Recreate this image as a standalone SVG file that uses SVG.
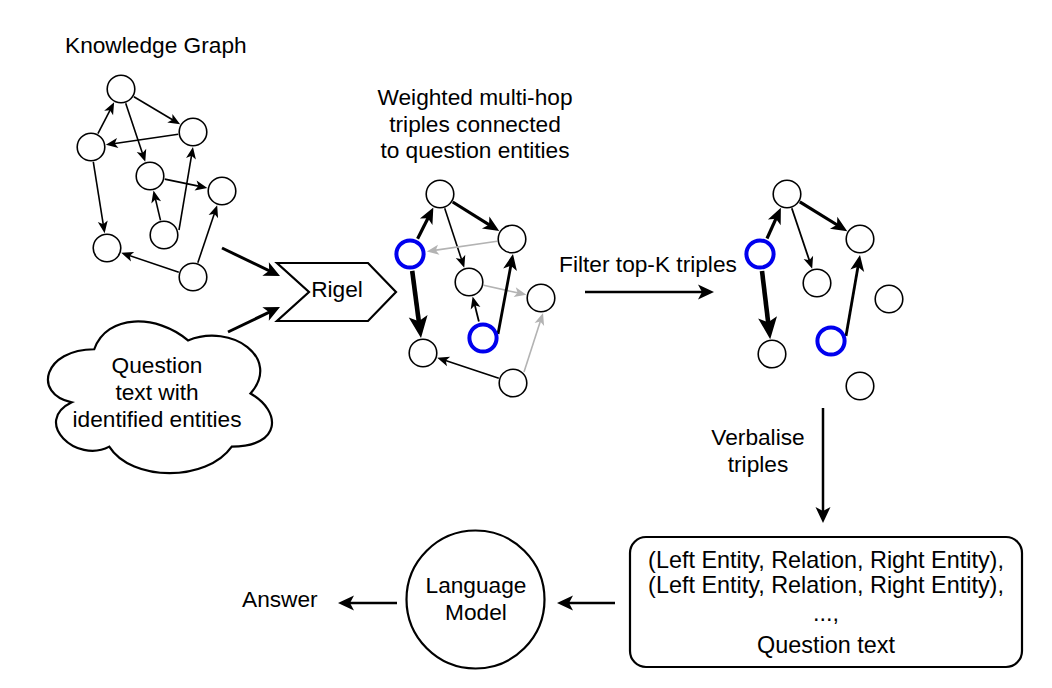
<svg xmlns="http://www.w3.org/2000/svg" width="1052" height="688" viewBox="0 0 1052 688">
<style>
text{font-family:"Liberation Sans",Arial,Helvetica,sans-serif;font-size:22.7px;fill:#000}
.c{text-anchor:middle}
.n{fill:#fff;stroke:#000;stroke-width:1.6}
.q{fill:#fff;stroke:#0000ee;stroke-width:4}
.e1{stroke:#000;stroke-width:1.6;fill:none;marker-end:url(#a1)}
.eg{stroke:#b3b3b3;stroke-width:1.6;fill:none;marker-end:url(#ag)}
.e2{stroke:#000;stroke-width:3.2;fill:none;marker-end:url(#a2)}
.e3{stroke:#000;stroke-width:4.6;fill:none;marker-end:url(#a3)}
.eb{stroke:#000;stroke-width:2.5;fill:none;marker-end:url(#ab)}
.sh{fill:#fff;stroke:#000;stroke-width:2.2}
</style>
<defs>
<marker id="a1" markerUnits="userSpaceOnUse" markerWidth="12" markerHeight="10" refX="8" refY="5" orient="auto" overflow="visible"><path d="M12,5 L0,0 L3,5 L0,10 Z" fill="#000"/></marker>
<marker id="ag" markerUnits="userSpaceOnUse" markerWidth="12" markerHeight="10" refX="8" refY="5" orient="auto" overflow="visible"><path d="M12,5 L0,0 L3,5 L0,10 Z" fill="#b3b3b3"/></marker>
<marker id="a2" markerUnits="userSpaceOnUse" markerWidth="16" markerHeight="14" refX="9" refY="7" orient="auto" overflow="visible"><path d="M16,7 L0,0 L4,7 L0,14 Z" fill="#000"/></marker>
<marker id="a3" markerUnits="userSpaceOnUse" markerWidth="22" markerHeight="19" refX="12" refY="9.5" orient="auto" overflow="visible"><path d="M22,9.5 L0,0 L5,9.5 L0,19 Z" fill="#000"/></marker>
<marker id="ab" markerUnits="userSpaceOnUse" markerWidth="16" markerHeight="15" refX="10" refY="7.5" orient="auto" overflow="visible"><path d="M16,7.5 L0,0 L4,7.5 L0,15 Z" fill="#000"/></marker>
</defs>
<rect width="1052" height="688" fill="#fff"/>

<g id="connectors">
<!-- knowledge graph -->
<line class="e1" x1="133.9" y1="96.7" x2="176.7" y2="122.3"/>
<line class="e1" x1="125.7" y1="103.2" x2="144.0" y2="158.0"/>
<line class="e1" x1="97.9" y1="133.7" x2="112.3" y2="105.9"/>
<line class="e1" x1="178.2" y1="134.2" x2="109.8" y2="144.2"/>
<line class="e1" x1="93.3" y1="161.8" x2="104.0" y2="229.2"/>
<line class="e1" x1="164.7" y1="179.1" x2="203.4" y2="187.1"/>
<line class="e1" x1="160.5" y1="220.4" x2="154.4" y2="194.5"/>
<line class="e1" x1="179" y1="230" x2="192.3" y2="150.9"/>
<line class="e1" x1="178.8" y1="272.2" x2="125.0" y2="254.1"/>
<line class="e1" x1="197.8" y1="262.8" x2="215.9" y2="209.0"/>
<!-- weighted graph -->
<line class="e2" x1="417.6" y1="238.8" x2="430.2" y2="213.7"/>
<line class="e2" x1="452.7" y1="202.0" x2="493.3" y2="227.3"/>
<line class="e1" x1="444.7" y1="208.2" x2="463.0" y2="264.0"/>
<line class="eg" x1="497.2" y1="241.2" x2="430.8" y2="250.9"/>
<line class="e3" x1="412.2" y1="270.9" x2="419.7" y2="328.2"/>
<line class="eg" x1="483.6" y1="285.3" x2="522.5" y2="293.9"/>
<line class="e1" style="stroke-width:1.8" x1="478.9" y1="321.5" x2="473.6" y2="300.4"/>
<line class="e2" style="stroke-width:2.8" x1="498" y1="334" x2="511.7" y2="260.9"/>
<line class="e1" x1="498.8" y1="378.3" x2="441.0" y2="359.0"/>
<line class="eg" x1="524" y1="372" x2="541.8" y2="316.8"/>
<!-- filtered graph -->
<line class="e2" x1="767.0" y1="238.5" x2="778.0" y2="214.1"/>
<line class="e2" x1="799.8" y1="201.9" x2="841.3" y2="227.5"/>
<line class="e1" style="stroke-width:1.8" x1="791.8" y1="208.2" x2="810.9" y2="265.0"/>
<line class="e3" x1="762.0" y1="270.9" x2="769.0" y2="329.2"/>
<line class="e2" style="stroke-width:2.8" x1="846" y1="336" x2="858.8" y2="261.9"/>
<!-- flow arrows -->
<line class="eb" style="stroke-width:3" x1="222" y1="248" x2="274.6" y2="273.4"/>
<line class="eb" style="stroke-width:3" x1="228" y1="332" x2="274.6" y2="309.6"/>
<line class="eb" x1="585" y1="292" x2="708" y2="292"/>
<line class="eb" x1="823" y1="408" x2="823" y2="517"/>
<line class="eb" x1="615" y1="603" x2="563" y2="603"/>
<line class="eb" x1="397" y1="603" x2="344" y2="603"/>
</g>

<g id="kg-title"><text x="65" y="53">Knowledge Graph</text></g>
<g id="kg-n1"><circle class="n" cx="121" cy="89" r="13.8"/></g>
<g id="kg-n2"><circle class="n" cx="193" cy="132" r="13.8"/></g>
<g id="kg-n3"><circle class="n" cx="91" cy="147" r="13.8"/></g>
<g id="kg-n4"><circle class="n" cx="150" cy="176" r="13.8"/></g>
<g id="kg-n5"><circle class="n" cx="222" cy="191" r="13.8"/></g>
<g id="kg-n6"><circle class="n" cx="164" cy="235" r="13.8"/></g>
<g id="kg-n7"><circle class="n" cx="107" cy="248" r="13.8"/></g>
<g id="kg-n8"><circle class="n" cx="193" cy="277" r="13.8"/></g>

<g id="question-cloud">
<path class="sh" d="M94.25,349.25 C44.25,349.25 31.75,393.5 71.75,402.35 C31.75,421.82 76.75,464.3 109.25,446.6 C131.75,482 206.75,482 231.75,446.6 C281.75,446.6 281.75,411.2 250.5,393.5 C281.75,358.1 231.75,322.7 188,340.4 C156.75,313.85 106.75,313.85 94.25,349.25 Z"/>
<text class="c" x="157" y="373">Question</text>
<text class="c" x="157" y="400">text with</text>
<text class="c" x="157" y="427">identified entities</text>
</g>

<g id="rigel">
<polygon class="sh" points="277,263 368,263 396,292 368,321 277,321 309,292"/>
<text class="c" x="337" y="297">Rigel</text>
</g>

<g id="weighted-title">
<text class="c" x="475" y="105">Weighted multi-hop</text>
<text class="c" x="475" y="131.5">triples connected</text>
<text class="c" x="475" y="158">to question entities</text>
</g>
<g id="w-n1"><circle class="n" cx="440" cy="194" r="13.8"/></g>
<g id="w-n2"><circle class="q" cx="410" cy="254" r="13.6"/></g>
<g id="w-n3"><circle class="n" cx="512" cy="239" r="13.8"/></g>
<g id="w-n4"><circle class="n" cx="469" cy="282" r="13.8"/></g>
<g id="w-n5"><circle class="n" cx="541" cy="298" r="13.8"/></g>
<g id="w-n6"><circle class="q" cx="483" cy="338" r="13.6"/></g>
<g id="w-n7"><circle class="n" cx="423" cy="353" r="13.8"/></g>
<g id="w-n8"><circle class="n" cx="513" cy="383" r="13.8"/></g>

<g id="filter-label"><text class="c" x="648" y="271.5">Filter top-K triples</text></g>

<g id="f-n1"><circle class="n" cx="787" cy="194" r="13.8"/></g>
<g id="f-n2"><circle class="q" cx="760" cy="254" r="13.6"/></g>
<g id="f-n3"><circle class="n" cx="860" cy="239" r="13.8"/></g>
<g id="f-n4"><circle class="n" cx="817" cy="283" r="13.8"/></g>
<g id="f-n5"><circle class="n" cx="889" cy="299" r="13.8"/></g>
<g id="f-n6"><circle class="q" cx="831" cy="341" r="13.6"/></g>
<g id="f-n7"><circle class="n" cx="772" cy="354" r="13.8"/></g>
<g id="f-n8"><circle class="n" cx="860" cy="386" r="13.8"/></g>

<g id="verbalise-label">
<text class="c" x="758" y="445">Verbalise</text>
<text class="c" x="758" y="471.5">triples</text>
</g>

<g id="triples-box">
<rect class="sh" x="630" y="537" width="392" height="130" rx="16" ry="16"/>
<text class="c" x="826" y="568" style="font-size:23.4px">(Left Entity, Relation, Right Entity),</text>
<text class="c" x="826" y="593" style="font-size:23.4px">(Left Entity, Relation, Right Entity),</text>
<text class="c" x="826" y="621" style="font-size:23.4px">...,</text>
<text class="c" x="826" y="653" style="font-size:23.4px">Question text</text>
</g>

<g id="language-model">
<circle class="sh" cx="475.5" cy="599.5" r="69"/>
<text class="c" x="476" y="593">Language</text>
<text class="c" x="476" y="620">Model</text>
</g>

<g id="answer"><text x="242" y="607">Answer</text></g>
</svg>
